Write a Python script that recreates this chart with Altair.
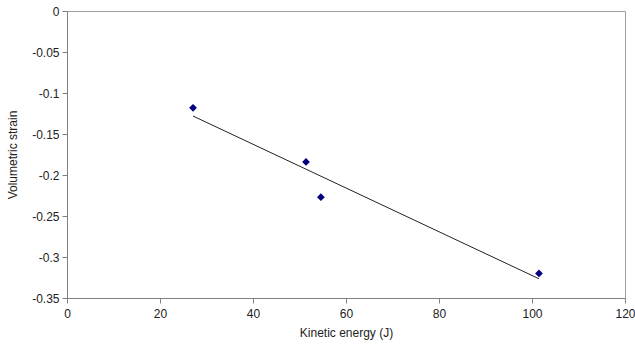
import altair as alt
import pandas as pd

energy = [27.1, 51.4, 54.6, 101.5]
strain = [-0.118, -0.184, -0.227, -0.320]

df = pd.DataFrame({"energy": energy, "strain": strain})

xs = alt.Scale(domain=[0, 120], nice=False)
ys = alt.Scale(domain=[-0.35, 0], nice=False)

x_axis = alt.Axis(values=[0, 20, 40, 60, 80, 100, 120], title="Kinetic energy (J)",
                  grid=False, tickSize=5, labelPadding=5, titlePadding=8,
                  labelFlush=False, labelOverlap=False, labelBound=False)
y_axis = alt.Axis(values=[0, -0.05, -0.1, -0.15, -0.2, -0.25, -0.3, -0.35],
                  title="Volumetric strain", grid=False, tickSize=5, labelPadding=3,
                  titlePadding=12, labelExpr="toString(datum.value)",
                  labelFlush=False, labelOverlap=False)

base = alt.Chart(df)

line = base.transform_regression("energy", "strain").mark_line(
    color="#222222", strokeWidth=1
).encode(
    x=alt.X("energy:Q", scale=xs, axis=x_axis),
    y=alt.Y("strain:Q", scale=ys, axis=y_axis),
)

pts = base.mark_point(shape="diamond", filled=True, color="#000080", size=60, opacity=1).encode(
    x=alt.X("energy:Q", scale=xs, axis=x_axis),
    y=alt.Y("strain:Q", scale=ys, axis=y_axis),
)

chart = (line + pts).properties(
    width=558, height=287,
    autosize=alt.AutoSizeParams(type="none"),
    padding={"left": 67, "top": 11, "right": 10, "bottom": 50},
).configure_view(
    stroke="#a0a0a0", strokeWidth=1
).configure_axis(
    domainColor="#808080", tickColor="#808080",
    labelFont="Liberation Sans", titleFont="Liberation Sans",
    labelFontSize=12, titleFontSize=12, labelColor="#222222", titleColor="#222222",
    titleFontWeight="normal",
)

chart.save("out.html", embed_options={"renderer": "svg", "actions": False})
